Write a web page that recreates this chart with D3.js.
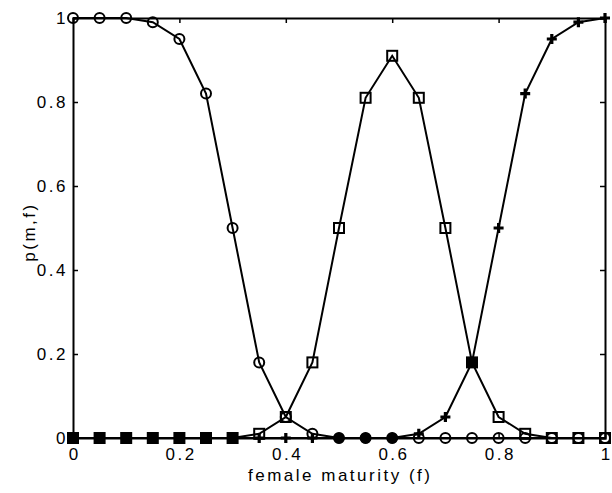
<!DOCTYPE html>
<html><head><meta charset="utf-8">
<script src="https://cdn.jsdelivr.net/npm/d3@7"></script>
<style>body{margin:0;background:#fff}text{font-family:"Liberation Sans",Arial,sans-serif;fill:#000}</style>
</head><body><svg id="c" width="612" height="493"></svg>
<script>
const fVals = [0,0.05,0.1,0.15,0.2,0.25,0.3,0.35,0.4,0.45,0.5,0.55,0.6,0.65,0.7,0.75,0.8,0.85,0.9,0.95,1];
const circleSeries = [1,1,1,0.99,0.95,0.82,0.5,0.18,0.05,0.01,0,0,0,0,0,0,0,0,0,0,0];
const squareSeries = [0,0,0,0,0,0,0,0.01,0.05,0.18,0.5,0.81,0.91,0.81,0.5,0.18,0.05,0.01,0,0,0];
const plusSeries   = [0,0,0,0,0,0,0,0,0,0,0,0,0,0.01,0.05,0.18,0.5,0.82,0.95,0.99,1];
const xTicks = [0,0.2,0.4,0.6,0.8,1];
const yTicks = [0,0.2,0.4,0.6,0.8,1];

const svg = d3.select("#c");
const L=73,R=605,T=18,B=438;
const x = d3.scaleLinear().domain([0,1]).range([L,R]);
const y = d3.scaleLinear().domain([0,1]).range([B,T]);
const LS = "2.5px", FS = 17;

const fmt = d => d===0?"0":d===1?"1":String(d);
const gx = svg.append("g").attr("transform",`translate(0,${B})`).call(d3.axisBottom(x).tickValues(xTicks).tickSize(-5).tickPadding(10).tickFormat(fmt));
const gxt = svg.append("g").attr("transform",`translate(0,${T})`).call(d3.axisTop(x).tickValues(xTicks).tickSize(-5).tickFormat(""));
const gy = svg.append("g").attr("transform",`translate(${L},0)`).call(d3.axisLeft(y).tickValues(yTicks).tickSize(-5).tickPadding(5).tickFormat(fmt));
const gyr = svg.append("g").attr("transform",`translate(${R},0)`).call(d3.axisRight(y).tickValues(yTicks).tickSize(-5).tickFormat(""));
[gx,gxt,gy,gyr].forEach(g=>{g.select(".domain").attr("stroke","#000").attr("stroke-width",2);g.selectAll(".tick line").attr("stroke","#000").attr("stroke-width",1.5);g.selectAll("text").attr("font-size",FS).attr("letter-spacing",LS).attr("font-family","Liberation Sans, Arial, sans-serif");});
gx.selectAll("text").attr("dx","1.25px");

const line = d3.line().x((d,i)=>x(fVals[i])).y(d=>y(d));
[circleSeries, squareSeries, plusSeries].forEach(s=>{
  svg.append("path").attr("d",line(s)).attr("fill","none").attr("stroke","#000").attr("stroke-width",2);
});
svg.append("g").selectAll("circle").data(circleSeries).join("circle")
  .attr("cx",(d,i)=>x(fVals[i])).attr("cy",d=>y(d)).attr("r",5)
  .attr("fill","none").attr("stroke","#000").attr("stroke-width",2);
svg.append("g").selectAll("rect").data(squareSeries).join("rect")
  .attr("x",(d,i)=>x(fVals[i])-5).attr("y",d=>y(d)-5).attr("width",10).attr("height",10)
  .attr("fill","none").attr("stroke","#000").attr("stroke-width",2);
svg.append("g").selectAll("path").data(plusSeries).join("path")
  .attr("d",(d,i)=>{const cx=x(fVals[i]),cy=y(d),s=5;return `M${cx-s},${cy}H${cx+s}M${cx},${cy-s}V${cy+s}`;})
  .attr("fill","none").attr("stroke","#000").attr("stroke-width",3.2);
const filled = [];
plusSeries.forEach((p,i)=>{
  if(Math.abs(p-squareSeries[i])<0.005 && (p>0.005 || circleSeries[i]>0.005)) filled.push({i,v:p,t:"sq"});
  else if(Math.abs(p-circleSeries[i])<0.005 && squareSeries[i]>0.005) filled.push({i,v:p,t:"ci"});
});
svg.append("g").selectAll("rect").data(filled.filter(d=>d.t==="sq")).join("rect")
  .attr("x",d=>x(fVals[d.i])-5).attr("y",d=>y(d.v)-5).attr("width",10).attr("height",10).attr("fill","#000");
svg.append("g").selectAll("circle").data(filled.filter(d=>d.t==="ci")).join("circle")
  .attr("cx",d=>x(fVals[d.i])).attr("cy",d=>y(d.v)).attr("r",5.5).attr("fill","#000");

svg.append("text").attr("x",(L+R)/2+1.25).attr("y",481).attr("text-anchor","middle").attr("font-size",FS).attr("letter-spacing",LS).text("female maturity (f)");
svg.append("text").attr("transform",`translate(35,${232}) rotate(-90)`).attr("text-anchor","middle").attr("font-size",FS).attr("letter-spacing",LS).text("p(m,f)");
</script></body></html>
